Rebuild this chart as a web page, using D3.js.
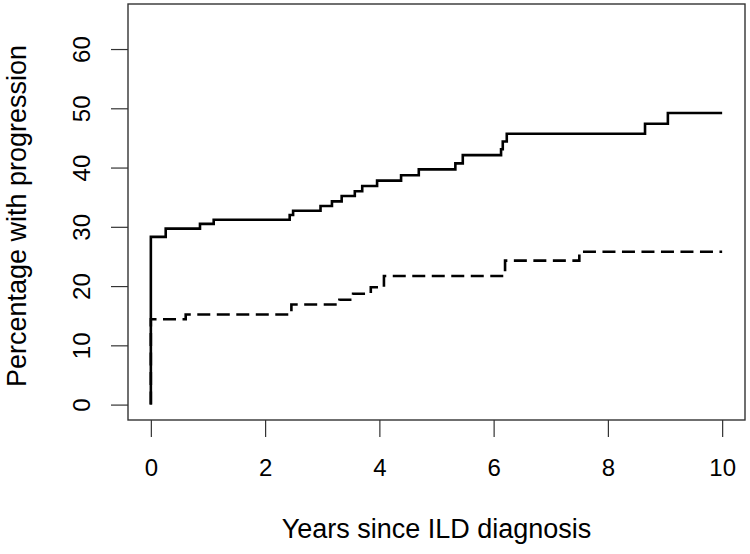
<!DOCTYPE html>
<html>
<head>
<meta charset="utf-8">
<script src="https://cdn.jsdelivr.net/npm/d3@7/dist/d3.min.js"></script>
<style>
  html, body { margin: 0; padding: 0; background: #fff; }
  svg { display: block; }
  text { font-family: "Liberation Sans", Arial, Helvetica, sans-serif; fill: #000; }
</style>
</head>
<body>
<svg id="chart" width="750" height="554"></svg>
<script>
// ---- data ----
const solidTimes  = [0, 0, 0.26, 0.86, 1.10, 2.43, 2.49, 2.97, 3.17, 3.34, 3.57, 3.70, 3.96, 4.38, 4.69, 5.33, 5.46, 6.13, 6.16, 6.23, 8.65, 9.05];
const solidValues = [0, 28.3, 29.7, 30.5, 31.2, 32.0, 32.7, 33.5, 34.3, 35.2, 36.0, 36.9, 37.8, 38.7, 39.7, 40.7, 42.1, 43.1, 44.4, 45.7, 47.4, 49.2];
const dashedTimes  = [0, 0, 0.61, 2.46, 3.30, 3.54, 3.85, 4.08, 6.20, 7.50];
const dashedValues = [0, 14.4, 15.2, 16.9, 17.7, 18.7, 19.8, 21.7, 24.3, 25.8];
const followUpEnd = 10;
const xTicks = [0, 2, 4, 6, 8, 10];
const yTicks = [0, 10, 20, 30, 40, 50, 60];
const xTitle = "Years since ILD diagnosis";
const yTitle = "Percentage with progression";

// ---- layout ----
const svg = d3.select("#chart");
const box = { left: 128, right: 745, top: 4, bottom: 420 };
const xlim = [0, 10], ylim = [0, 65];
const xPad = (xlim[1] - xlim[0]) * 0.04, yPad = (ylim[1] - ylim[0]) * 0.04;
const x = d3.scaleLinear().domain([xlim[0] - xPad, xlim[1] + xPad]).range([box.left, box.right]);
const y = d3.scaleLinear().domain([ylim[0] - yPad, ylim[1] + yPad]).range([box.bottom, box.top]);

svg.append("rect").attr("width", 750).attr("height", 554).attr("fill", "#fff");

// axes
const xAxis = d3.axisBottom(x).tickValues(xTicks).tickSize(17).tickPadding(22).tickFormat(d3.format("d"));
const gx = svg.append("g").attr("transform", `translate(0,${box.bottom})`).call(xAxis);
gx.select(".domain").remove();
gx.selectAll(".tick line").attr("stroke", "#333").attr("stroke-width", 1.2);
gx.selectAll(".tick text").attr("font-size", 24).attr("font-family", "Liberation Sans, Arial, sans-serif").attr("fill", "#000");

const yAxis = d3.axisLeft(y).tickValues(yTicks).tickSize(17).tickFormat(d3.format("d"));
const gy = svg.append("g").attr("transform", `translate(${box.left},0)`).call(yAxis);
gy.select(".domain").remove();
gy.selectAll(".tick line").attr("stroke", "#333").attr("stroke-width", 1.2);
gy.selectAll(".tick text")
  .attr("font-size", 24).attr("font-family", "Liberation Sans, Arial, sans-serif").attr("fill", "#000")
  .attr("x", null).attr("dy", null)
  .attr("text-anchor", "middle")
  .attr("transform", "translate(-38,0) rotate(-90)");

// box
svg.append("rect")
  .attr("x", box.left).attr("y", box.top)
  .attr("width", box.right - box.left).attr("height", box.bottom - box.top)
  .attr("fill", "none").attr("stroke", "#333").attr("stroke-width", 1.4);

// curves
function series(times, values) {
  const pts = times.map((t, i) => [t, values[i]]);
  pts.push([followUpEnd, values[values.length - 1]]);
  return pts;
}
const line = d3.line().x(d => x(d[0])).y(d => y(d[1])).curve(d3.curveStepAfter);

svg.append("path")
  .datum(series(dashedTimes, dashedValues))
  .attr("d", line)
  .attr("fill", "none").attr("stroke", "#000").attr("stroke-width", 2.6)
  .attr("stroke-dasharray", "13,6.5");

svg.append("path")
  .datum(series(solidTimes, solidValues))
  .attr("d", line)
  .attr("fill", "none").attr("stroke", "#000").attr("stroke-width", 2.6);

// titles
svg.append("text")
  .attr("x", (box.left + box.right) / 2).attr("y", 538)
  .attr("text-anchor", "middle").attr("font-size", 27)
  .text(xTitle);

svg.append("text")
  .attr("transform", `translate(26,${(box.top + box.bottom) / 2 + 4}) rotate(-90)`)
  .attr("text-anchor", "middle").attr("font-size", 27)
  .text(yTitle);
</script>
</body>
</html>
